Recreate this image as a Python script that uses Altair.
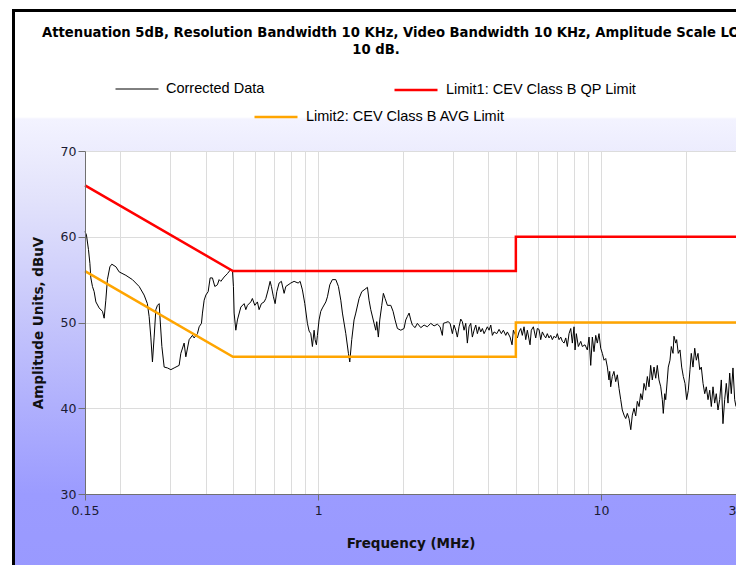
import altair as alt
import pandas as pd

# ---------------- data ----------------
series_names = ["Corrected Data", "Limit1: CEV Class B QP Limit", "Limit2: CEV Class B AVG Limit"]
series_colors = ["#000000", "#ff0000", "#ffa500"]

data_freq = [
    0.15, 0.1518, 0.1543, 0.1561, 0.1573, 0.1594, 0.1616, 0.1639, 0.1683, 0.1729,
    0.1753, 0.1777, 0.18, 0.1837, 0.1866, 0.1929, 0.1981, 0.2092, 0.2207, 0.2331,
    0.2427, 0.2492, 0.2528, 0.2563, 0.2597, 0.2633, 0.267, 0.2705, 0.2743, 0.2765,
    0.2804, 0.2857, 0.2935, 0.3017, 0.3099, 0.3227, 0.3272, 0.3361, 0.3408, 0.3501,
    0.3596, 0.3646, 0.3746,
    0.3798, 0.387, 0.3902, 0.3956, 0.4011, 0.4087, 0.4154, 0.4232, 0.4315, 0.4407,
    0.4469, 0.4531, 0.4654, 0.4781, 0.4914, 0.498, 0.502, 0.5049, 0.5119, 0.5186,
    0.5332, 0.5477, 0.5553, 0.5626, 0.5783, 0.5858, 0.5974, 0.6102, 0.6187, 0.6304,
    0.6445, 0.6535, 0.6658, 0.6767, 0.6839, 0.695, 0.7048, 0.7146, 0.7281, 0.7418,
    0.7584, 0.7689, 0.8006, 0.8226, 0.85, 0.864, 0.8802, 0.8974, 0.9167, 0.9294,
    0.9424, 0.9548, 0.968, 0.9759, 0.9863, 0.9943,
    1.008, 1.022, 1.036, 1.065, 1.079, 1.1, 1.123, 1.155, 1.18, 1.203,
    1.219, 1.253, 1.28, 1.294, 1.315, 1.34, 1.359, 1.396, 1.427, 1.454,
    1.494, 1.514, 1.535, 1.577, 1.599, 1.612, 1.633, 1.652, 1.679, 1.701,
    1.725, 1.758, 1.807, 1.841, 1.871, 1.907, 1.96, 2.013, 2.041, 2.068,
    2.097, 2.126, 2.154, 2.202, 2.243, 2.307,
    2.37, 2.433, 2.502, 2.57, 2.64, 2.698, 2.749, 2.772, 2.827, 2.88,
    2.928, 2.983, 3.024, 3.066, 3.106, 3.149, 3.193, 3.235, 3.28, 3.326,
    3.37, 3.416, 3.464, 3.51, 3.559, 3.608, 3.656, 3.707, 3.758, 3.808,
    3.861, 3.914, 3.965, 4.021, 4.077, 4.131, 4.188, 4.281, 4.362, 4.444,
    4.517, 4.606, 4.666, 4.77, 4.848, 4.9, 4.956, 5.062, 5.132, 5.204,
    5.271, 5.345, 5.419, 5.49, 5.612, 5.671, 5.765, 5.878, 5.955,
    6.038, 6.122, 6.203, 6.29, 6.377, 6.46, 6.551, 6.643, 6.729, 6.823,
    6.918, 7.009, 7.107, 7.206, 7.301, 7.403, 7.506, 7.603, 7.709, 7.816,
    7.919, 8.029, 8.094, 8.18, 8.315, 8.479, 8.59, 8.779, 8.945, 9.071,
    9.197, 9.318, 9.447, 9.579, 9.703, 9.838, 9.975, 10.11, 10.25, 10.39,
    10.53, 10.67, 10.73, 10.82, 10.96, 11.11, 11.27, 11.42, 11.58, 11.74,
    11.89, 12.06, 12.23, 12.39, 12.56, 12.74, 12.9,
    13.08, 13.26, 13.44, 13.63, 13.81, 13.99, 14.19, 14.39, 14.58, 14.78,
    14.98, 15.18, 15.39, 15.61, 15.81, 16.03, 16.26, 16.47, 16.6, 16.8,
    16.93, 17.15, 17.29, 17.53, 17.72, 17.97, 18.11, 18.37, 18.51, 18.75,
    19.02, 19.28, 19.54, 19.81, 20.08, 20.35, 20.63, 20.85, 21.14, 21.44,
    21.72, 22.02, 22.33, 22.62, 22.94, 23.26, 23.56, 23.89, 24.22, 24.54,
    24.88, 25.22, 25.55, 25.91, 26.27, 26.62, 26.98, 27.36, 27.72, 28.11,
    28.5, 28.87, 29.27, 29.68, 30.0,
]
data_level = [
    60.6, 60.2, 58.5, 56.9, 55.2, 54.2, 53.6, 52.4, 51.7, 51.3,
    50.5, 52.6, 55.0, 56.5, 56.8, 56.5, 55.9, 55.5, 55.0, 54.2,
    53.2, 52.2, 50.7, 48.3, 45.4, 48.3, 51.5, 52.0, 52.2, 50.3,
    47.2, 44.8, 44.7, 44.5, 44.7, 45.0, 46.4, 47.6, 46.0, 48.0,
    48.5, 48.2, 48.7,
    49.5, 49.9, 51.1, 52.6, 53.2, 53.6, 55.2, 55.2, 54.2, 54.4,
    55.0, 54.8, 55.3, 55.7, 56.2, 56.1, 54.2, 51.1, 49.1, 50.3,
    51.8, 52.2, 51.5, 52.0, 52.4, 52.8, 52.0, 52.4, 51.5, 52.2,
    52.4, 52.8, 53.8, 54.8, 54.2, 53.0, 52.2, 53.6, 54.6, 54.8,
    53.4, 54.2, 54.6, 54.8, 54.6, 54.8, 53.8, 52.2, 49.9, 49.0,
    48.7, 47.2, 49.1, 48.0, 47.4, 48.5,
    50.3, 51.3, 51.7, 52.4, 53.0, 54.4, 55.0, 55.0, 54.2, 52.6,
    51.1, 48.7, 46.4, 45.4, 48.0, 50.3, 51.1, 52.8, 53.6, 53.8,
    54.1, 52.6, 51.5, 49.9, 49.1, 50.1, 48.3, 50.3, 52.0, 53.4,
    52.8, 52.0, 52.0, 51.3, 50.3, 49.3, 49.1, 49.3, 50.3, 50.7,
    51.1, 50.3, 49.7, 49.4, 49.9, 49.4,
    49.7, 49.5, 49.9, 49.6, 49.8, 49.5, 48.5, 49.9, 50.0, 50.1,
    49.9, 48.7, 49.7, 49.1, 48.3, 49.5, 50.4, 50.1, 49.1, 49.9,
    47.6, 49.5, 49.9, 48.3, 49.1, 49.7, 48.7, 49.5, 48.9, 49.3,
    48.7, 49.1, 49.5, 49.1, 49.7, 48.5, 48.9, 48.7, 49.2, 48.7,
    49.1, 48.5, 48.9, 48.3, 47.4, 49.1, 48.7, 48.2, 48.9, 49.3,
    48.5, 49.5, 48.0, 49.1, 47.4, 49.1, 49.5, 48.2, 49.3,
    49.2, 48.0, 48.9, 48.5, 48.2, 48.7, 48.2, 48.5, 48.0, 48.4,
    48.2, 48.7, 48.0, 48.3, 47.8, 47.6, 48.2, 47.2, 48.7, 49.3,
    47.6, 49.5, 46.8, 48.7, 47.2, 47.8, 47.2, 47.4, 46.8, 48.3,
    45.0, 48.3, 46.6, 48.5, 47.6, 48.7, 47.0, 46.4, 45.6, 45.8,
    44.8, 43.3, 44.3, 42.5, 43.7, 44.3, 43.1, 43.9, 42.3, 41.0,
    39.8, 39.2, 38.8, 39.4, 38.8, 37.5, 39.2,
    40.0, 39.1, 40.8, 40.2, 41.7, 41.0, 42.9, 42.1, 43.7, 42.5,
    45.0, 43.3, 44.8, 43.5, 45.0, 43.3, 42.5, 41.0, 39.4, 41.7,
    41.0, 43.3, 44.8, 45.6, 47.2, 46.4, 48.4, 47.6, 48.0, 46.4,
    46.8, 44.8, 43.7, 42.9, 41.0, 42.1, 44.5, 46.4, 44.8, 47.0,
    45.6, 46.4, 44.5, 44.8, 42.9, 41.7, 42.5, 41.0, 42.1, 40.2,
    42.5, 40.6, 41.7, 39.8, 41.0, 43.3, 38.2, 41.0, 42.9, 40.6,
    44.1, 41.7, 44.7, 41.0, 40.2,
]

qp_freq = [0.15, 0.5, 5.0, 5.0, 30.0]
qp_level = [66.0, 56.0, 56.0, 60.0, 60.0]
avg_freq = [0.15, 0.5, 5.0, 5.0, 30.0]
avg_level = [56.0, 46.0, 46.0, 50.0, 50.0]

x_label_values = [0.15, 1, 10, 30]
x_grid_values = [0.2, 0.3, 0.4, 0.5, 0.6, 0.7, 0.8, 0.9, 1, 2, 3, 4, 5, 6, 7, 8, 9, 10, 20, 30]
y_label_values = [30, 40, 50, 60, 70]
y_grid_values = [40, 50, 60, 70]

title_lines = [
    "Attenuation 5dB, Resolution Bandwidth 10 KHz, Video Bandwidth 10 KHz, Amplitude Scale LOG",
    "10 dB.",
]

# ---------------- tables ----------------
df_data = pd.DataFrame({"f": data_freq, "v": data_level, "i": list(range(len(data_freq))), "series": series_names[0]})
df_qp = pd.DataFrame({"f": qp_freq, "v": qp_level, "i": list(range(len(qp_freq))), "series": series_names[1]})
df_avg = pd.DataFrame({"f": avg_freq, "v": avg_level, "i": list(range(len(avg_freq))), "series": series_names[2]})
one = pd.DataFrame({"k": [0]})

PAD_L, PAD_T = 77, 143
OX, OY = PAD_L + 8, PAD_T + 8  # page position of the plot origin
W, H = 651, 343
xscale = alt.Scale(type="log", domain=[0.15, 30], nice=False)
yscale = alt.Scale(domain=[30, 70], nice=False, zero=False)

# ---------------- background frame (gradient) ----------------
stops = [
    alt.GradientStop(offset=0.0, color="#ffffff"),
    alt.GradientStop(offset=0.187, color="#ffffff"),
    alt.GradientStop(offset=0.1905, color="#f3f3ff"),
    alt.GradientStop(offset=0.333, color="#e2e2fb"),
    alt.GradientStop(offset=0.508, color="#cacafb"),
    alt.GradientStop(offset=0.684, color="#b1b1fd"),
    alt.GradientStop(offset=0.849, color="#9b9bff"),
    alt.GradientStop(offset=1.0, color="#9999ff"),
]
TOP, BOT, LEFT, RIGHT = -140.5, 429.0, -71.5, 720.0


def strip(x0, x1, y0, y1):
    g1 = (TOP - y0) / (y1 - y0)
    g2 = (BOT - y0) / (y1 - y0)
    return alt.Chart(one).mark_rect(
        fill=alt.Gradient(gradient="linear", stops=stops, x1=0, x2=0, y1=g1, y2=g2)
    ).encode(x=alt.value(x0), x2=alt.value(x1), y=alt.value(y0), y2=alt.value(y1))


bg = [
    strip(LEFT, 0, TOP, BOT),
    strip(W, RIGHT, TOP, BOT),
    strip(0, W, TOP, 0),
    strip(0, W, H, BOT),
]
border = alt.Chart(one).mark_rect(fillOpacity=0, stroke="black", strokeWidth=3).encode(
    x=alt.value(LEFT), x2=alt.value(RIGHT), y=alt.value(TOP), y2=alt.value(BOT)
)

title1 = alt.Chart(one).mark_text(
    align="left", baseline="middle", font="DejaVu Sans", fontSize=13.2, fontWeight="bold", color="#000000"
).encode(x=alt.value(42 - OX), y=alt.value(33 - OY), text=alt.value(title_lines[0]))
title2 = alt.Chart(one).mark_text(
    align="center", baseline="middle", font="DejaVu Sans", fontSize=13.2, fontWeight="bold", color="#000000"
).encode(x=alt.value(376 - OX), y=alt.value(50 - OY), text=alt.value(title_lines[1]))


def legend(x, y, sw):
    return alt.Legend(
        orient="none", legendX=x, legendY=y, title=None, symbolType="stroke",
        symbolSize=1849, symbolStrokeWidth=sw, labelFont="Liberation Sans", labelFontSize=14.5,
        labelColor="#000000", labelOffset=7, labelLimit=500, padding=0, zindex=1,
    )


grid_x = alt.Axis(orient="bottom", values=x_grid_values, grid=True, gridColor="#dcdcdc", gridWidth=1,
                  labels=False, ticks=False, domain=False, title=None, zindex=0)
grid_y = alt.Axis(orient="left", values=y_grid_values, grid=True, gridColor="#dcdcdc", gridWidth=1,
                  labels=False, ticks=False, domain=False, title=None, zindex=0)
lab_x = alt.Axis(orient="bottom", values=x_label_values, format="~g", grid=False, domainColor="#707070",
                 tickColor="#707070", tickSize=6, labelPadding=4, labelFont="DejaVu Sans", labelFontSize=12.5,
                 labelColor="#1a1a33", labelFlush=False, labelOverlap=False,
                 title="Frequency (MHz)", titleFont="DejaVu Sans", titleFontSize=13.5, titleFontWeight="bold",
                 titleColor="#111111", titlePadding=20, zindex=1)
lab_y = alt.Axis(orient="left", values=y_label_values, grid=False, domainColor="#707070",
                 tickColor="#707070", tickSize=7, labelPadding=2, labelFont="DejaVu Sans", labelFontSize=12.5,
                 labelColor="#1a1a33", labelFlush=False, labelOverlap=False,
                 title="Amplitude Units, dBuV", titleFont="DejaVu Sans", titleFontSize=13.5, titleFontWeight="bold",
                 titleColor="#111111", titlePadding=15, zindex=1)

data_line = alt.Chart(df_data).mark_line(strokeWidth=1, interpolate="linear").encode(
    x=alt.X("f:Q", scale=xscale, axis=grid_x),
    y=alt.Y("v:Q", scale=yscale, axis=grid_y),
    order=alt.Order("i:Q"),
    color=alt.Color("series:N", scale=alt.Scale(domain=[series_names[0]], range=[series_colors[0]]),
                    legend=legend(115 - OX, -84, 1)),
)
qp_line = alt.Chart(df_qp).mark_line(strokeWidth=2.5).encode(
    x=alt.X("f:Q", scale=xscale, axis=lab_x),
    y=alt.Y("v:Q", scale=yscale, axis=lab_y),
    order=alt.Order("i:Q"),
    color=alt.Color("series:N", scale=alt.Scale(domain=[series_names[1]], range=[series_colors[1]]),
                    legend=legend(393 - OX, -84, 2.5)),
)
avg_line = alt.Chart(df_avg).mark_line(strokeWidth=2.5).encode(
    x=alt.X("f:Q", scale=xscale, axis=None),
    y=alt.Y("v:Q", scale=yscale, axis=None),
    order=alt.Order("i:Q"),
    color=alt.Color("series:N", scale=alt.Scale(domain=[series_names[2]], range=[series_colors[2]]),
                    legend=legend(253 - OX, -57, 2.5)),
)

chart = alt.layer(*bg, border, title1, title2, data_line, qp_line, avg_line).resolve_scale(
    color="independent"
).resolve_axis(x="independent", y="independent").properties(
    width=W, height=H,
    padding={"left": PAD_L, "top": PAD_T, "right": 0, "bottom": 71},
    autosize=alt.AutoSizeParams(type="none"),
    background="#ffffff",
).configure_view(strokeWidth=0, fill="#ffffff")

chart.save("out.html", embed_options={"renderer": "svg", "actions": False})
